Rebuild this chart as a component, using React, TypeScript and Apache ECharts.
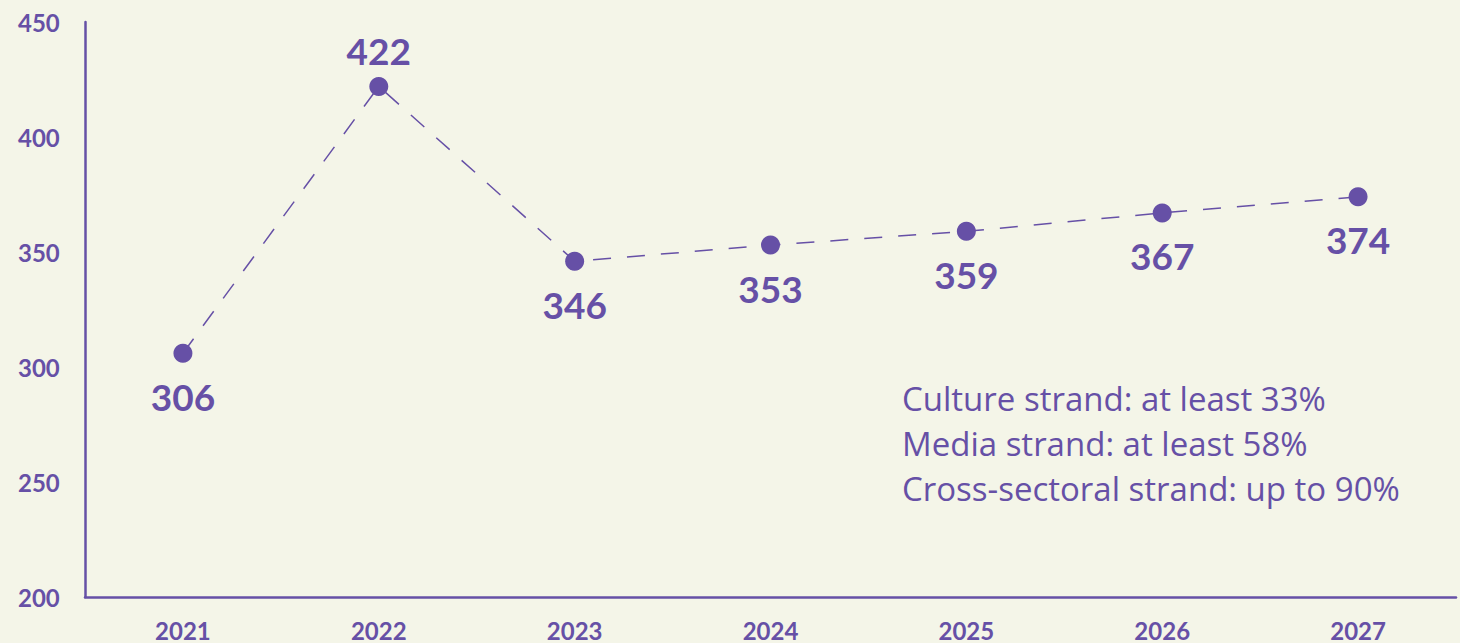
import React, { useEffect, useRef } from "react";
import * as echarts from "echarts";

const years = ["2021", "2022", "2023", "2024", "2025", "2026", "2027"];
const budget = [306, 422, 346, 353, 359, 367, 374];
const labelAbove = ["2022"];
const yTicks = { min: 200, max: 450, interval: 50 };
const noteLines = [
  "Culture strand: at least 33%",
  "Media strand: at least 58%",
  "Cross-sectoral strand: up to 90%",
];

const PURPLE = "#6650a6";
const BG = "#f4f5e8";
const FONT = "Lato, 'Open Sans', sans-serif";
const NOTE_FONT = "'Open Sans', Lato, sans-serif";

export default function App() {
  const ref = useRef<HTMLDivElement>(null);
  useEffect(() => {
    document.body.style.margin = "0";
    document.body.style.background = BG;
    const chart = echarts.init(ref.current!, null, { renderer: "svg" });
    chart.setOption({
      animation: false,
      backgroundColor: BG,
      grid: { left: 85, right: 4, top: 22, bottom: 46, containLabel: false },
      xAxis: {
        type: "category",
        data: years,
        boundaryGap: true,
        axisLine: { lineStyle: { color: PURPLE, width: 2.5 } },
        axisTick: { show: false },
        axisLabel: {
          color: PURPLE,
          fontFamily: FONT,
          fontWeight: "bold",
          fontSize: 24,
          margin: 21,
        },
      },
      yAxis: {
        type: "value",
        min: yTicks.min,
        max: yTicks.max,
        interval: yTicks.interval,
        axisLine: { show: true, lineStyle: { color: PURPLE, width: 2.5 } },
        axisTick: { show: false },
        splitLine: { show: false },
        axisLabel: {
          color: PURPLE,
          fontFamily: FONT,
          fontWeight: "bold",
          fontSize: 24,
          align: "left",
          margin: 67,
        },
      },
      series: [
        {
          type: "line",
          data: budget.map((v, i) => ({
            value: v,
            label: labelAbove.includes(years[i])
              ? { position: "top", distance: 8 }
              : { position: "bottom", distance: 15 },
          })),
          symbol: "circle",
          symbolSize: 19,
          itemStyle: { color: PURPLE },
          lineStyle: { color: PURPLE, width: 1.5, type: [18, 16] },
          label: {
            show: true,
            color: PURPLE,
            fontFamily: FONT,
            fontWeight: "bold",
            fontSize: 37,
          },
        },
      ],
      graphic: [
        {
          type: "text",
          left: 902,
          top: 376,
          style: {
            text: noteLines.join("\n"),
            fill: PURPLE,
            font: `400 33px ${NOTE_FONT}`,
            lineHeight: 45,
          },
        },
      ],
    });
    return () => chart.dispose();
  }, []);
  return <div ref={ref} style={{ width: 1460, height: 643 }} />;
}
